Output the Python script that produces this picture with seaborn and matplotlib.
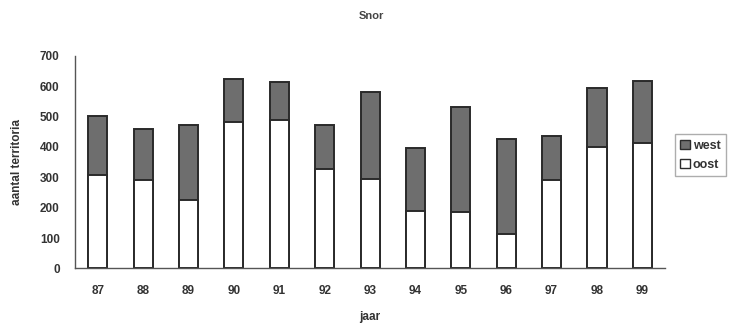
import matplotlib
matplotlib.use("Agg")
import matplotlib.pyplot as plt
import seaborn as sns
import numpy as np
import pandas as pd
from matplotlib.patches import Patch

years = ["87", "88", "89", "90", "91", "92", "93", "94", "95", "96", "97", "98", "99"]
oost = [307, 291, 225, 483, 488, 327, 293, 190, 187, 113, 291, 398, 412]
west = [195, 167, 247, 140, 127, 145, 287, 207, 345, 312, 146, 195, 205]
total = [o + w for o, w in zip(oost, west)]

df = pd.DataFrame({"jaar": years, "oost": oost, "west": west, "total": total})

sns.set_theme(style="white")
plt.rcParams['font.family'] = ['Liberation Sans', 'DejaVu Sans']

fig = plt.figure(figsize=(7.39, 3.23), dpi=100)
ax = fig.add_axes([0.1015, 0.169, 0.7985, 0.6586])

edge = "#2a2a2a"
sns.barplot(data=df, x="jaar", y="total", color="#6e6e6e", edgecolor=edge,
            linewidth=1.4, width=0.42, saturation=1, ax=ax)
sns.barplot(data=df, x="jaar", y="oost", color="white", edgecolor=edge,
            linewidth=1.4, width=0.42, saturation=1, ax=ax)

ax.set_xlim(-0.5, len(years) - 0.5)
ax.set_ylim(0, 700)
ax.set_yticks(range(0, 701, 100))
ax.set_xticks(np.arange(-0.5, len(years) + 0.5, 1), minor=True)
ax.tick_params(axis="x", which="major", length=0, pad=12, labelsize=8.5)
ax.tick_params(axis="x", which="minor", length=5, direction="inout", color="#555555")
ax.tick_params(axis="y", which="major", length=8, direction="inout", color="#555555",
               labelsize=8.5, pad=7)
for lab in ax.get_xticklabels() + ax.get_yticklabels():
    lab.set_fontweight("bold")
    lab.set_color("#333333")

for s in ["top", "right"]:
    ax.spines[s].set_visible(False)
for s in ["left", "bottom"]:
    ax.spines[s].set_color("#555555")
    ax.spines[s].set_linewidth(1.0)

ax.set_xlabel("jaar", fontsize=8.5, fontweight="bold", color="#333333", labelpad=10)
ax.set_ylabel("aantal territoria", fontsize=8.5, fontweight="bold", color="#333333", labelpad=12)
fig.text(0.503, 0.95, "Snor", ha="center", va="center", fontsize=8,
         fontweight="bold", color="#444444")

handles = [Patch(facecolor="#6e6e6e", edgecolor=edge, label="west"),
           Patch(facecolor="white", edgecolor=edge, label="oost")]
leg = fig.legend(handles=handles, loc="upper left", bbox_to_anchor=(0.913, 0.585),
                 frameon=True, fancybox=False, fontsize=9, handlelength=0.8,
                 handleheight=0.8, handletextpad=0.2, borderpad=0.45, labelspacing=0.55,
                 borderaxespad=0.0)
leg.get_frame().set_edgecolor("#999999")
leg.get_frame().set_linewidth(1.0)
for t in leg.get_texts():
    t.set_fontweight("bold")
    t.set_color("#333333")

fig.savefig("out.png", dpi=100)
